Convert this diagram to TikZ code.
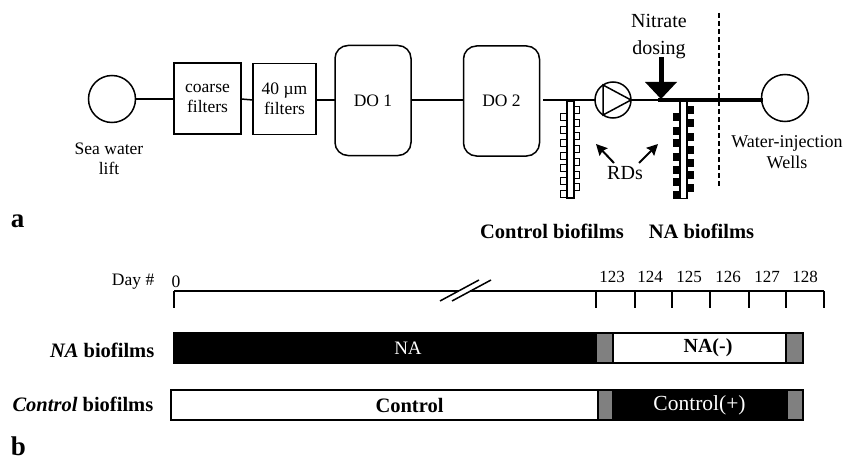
\documentclass[tikz,border=0pt]{standalone}
\usepackage{fontspec}
\setmainfont{Liberation Serif}
\usetikzlibrary{arrows.meta, positioning, calc}
\newcommand{\fs}[1]{\fontsize{#1}{#1}\selectfont}
\begin{document}
\begin{tikzpicture}[
  x=1pt, y=-1pt,
  line width=1.5pt,
  lbl/.style={inner sep=0pt, align=center, font=\fontsize{17.5}{20}\selectfont},
  head/.style={inner sep=0pt, font=\fontsize{20.5}{20}\selectfont\bfseries},
  panel/.style={inner sep=0pt, font=\fontsize{27}{27}\selectfont\bfseries},
  tank/.style={circle, draw, inner sep=0pt, outer sep=0pt, minimum size=47pt},
  filterbox/.style={rectangle, draw, inner sep=0pt, outer sep=0pt, align=center,
                    minimum height=71pt, font=\fontsize{17.5}{20}\selectfont},
  dobox/.style={rectangle, draw, rounded corners=13pt, inner sep=0pt, outer sep=0pt,
                minimum width=76pt, minimum height=110pt, font=\fontsize{17.5}{20}\selectfont},
  seg/.style={rectangle, draw, inner sep=0pt, outer sep=0pt, minimum height=30pt},
  shade/.style={seg, fill=black!50},
  tooth/.style={rectangle, draw, line width=1.3pt, inner sep=0pt, minimum width=6.5pt, minimum height=7.5pt},
  rod/.style={rectangle, draw, fill=white, line width=1.3pt, inner sep=0pt, minimum width=7pt, minimum height=97pt},
  arr/.style={-{Stealth[length=11pt, width=11pt, inset=1.5pt]}, line width=2pt}
]
  \useasboundingbox (0,0) rectangle (844,460);

  % panel a: water line
  \node[tank] (lift) at (112,99) {};
  \node[filterbox, minimum width=67pt] (coarse) at (207.5,98.5) {coarse\\filters};
  \node[filterbox, minimum width=63pt] (fine) at (284.5,99) {40 µm\\filters};
  \node[dobox] (do1) at (373,100.5) {DO 1};
  \node[dobox] (do2) at (501.5,101) {DO 2};
  \node[circle, draw, inner sep=0pt, outer sep=0pt, minimum size=36pt] (pump) at (613,100) {};
  \node[tank] (wells) at (785,98) {};
  \coordinate (pipein) at (543,100);
  \coordinate (dose) at (658,100);
  \coordinate (doseend) at (763,100);

  \draw (lift) -- (coarse.west |- lift);
  \draw (coarse.east |- 0,99) -- (fine.west |- 0,100);
  \draw (fine.east |- 0,100) -- (do1.west |- 0,100);
  \draw (do1.east |- 0,100) -- (do2.west |- 0,100);
  \draw (pipein) -- (pump.west);
  \draw (pump.east) -- (dose);
  \draw[line width=4pt] (dose) -- (doseend);
  \draw (603,85) -- (631,100) -- (603,115) -- cycle;

  % nitrate arrow
  \coordinate (nitrtop) at (661,57);
  \coordinate (nitrneck) at (661,82);
  \draw[line width=5pt] (nitrtop) -- (nitrneck);
  \fill (645,82) -- (677,82) -- (661,99) -- cycle;
  \node[lbl, font=\fontsize{20}{27}\selectfont] (nitrate) at (659,37) {Nitrate\\dosing};

  % rotating disks
  \foreach \y in {110,123,136,149,162,175,187} \node[tooth] at (576.5,\y) {};
  \foreach \y in {117,130,143,156,168,181,194} \node[tooth] at (563.5,\y) {};
  \node[rod] (rdctrl) at (570.5,149.5) {};
  \foreach \y in {110,123,137,150,163,175,188} \node[tooth, fill=black] at (690,\y) {};
  \foreach \y in {117,131,143,157,170,182,195} \node[tooth, fill=black] at (676.5,\y) {};
  \node[rod] (rdna) at (683.5,150) {};

  \node[lbl, font=\fontsize{20}{20}\selectfont] (rds) at (625,173) {RDs};
  \coordinate (rdctrltip) at (596,144);
  \coordinate (rdnatip) at (658,144);
  \draw[arr] (614,163) -- (rdctrltip);
  \draw[arr] (639,163) -- (rdnatip);

  \draw[dash pattern=on 5pt off 3pt, line width=1.2pt] (719,13) -- (719,187);

  \node[lbl] (liftlbl) at (109,158.5) {Sea water\\lift};
  \node[lbl, font=\fontsize{18}{21}\selectfont] (wellslbl) at (787,152.5) {Water-injection\\Wells};
  \node[head] (ctrlhead) at (552,231) {Control biofilms};
  \node[head] (nahead) at (701.5,231) {NA biofilms};
  \node[panel] (pa) at (17.5,221) {a};

  % panel b: time line
  \coordinate (t0) at (174,291);
  \coordinate (brk1) at (459,291);
  \coordinate (brk2) at (470,291);
  \coordinate (t5) at (824,291);
  \draw (t0) -- (brk1);
  \draw (brk2) -- (t5);
  \draw (440,301) -- (479,280);
  \draw (452,301) -- (491,280);
  \foreach \x in {174,596,635,672,710,749,786,824} \draw (\x,291) -- (\x,308);
  \foreach \x/\d in {612/123,650/124,689/125,728/126,767/127,805/128}
    \node[lbl, font=\fontsize{17}{20}\selectfont] at (\x,277) {\d};
  \node[lbl] (zero) at (176,282) {0};
  \node[lbl, left=21pt of zero.center, anchor=east] (day) {Day \#};

  % bars
  \node[seg, fill=black, minimum width=422pt, text=white] (nabar) at (385,348)
    {\hspace{46pt}\raisebox{-1pt}{\fs{19}NA}};
  \node[shade, minimum width=17pt, right=0pt of nabar] (nashade) {};
  \node[seg, fill=white, minimum width=173pt, right=0pt of nashade] (naminus)
    {\hspace{17pt}\raisebox{-2pt}{\fs{20}\bfseries NA(-)}};
  \node[shade, minimum width=17pt, right=0pt of naminus] (nashadeb) {};

  \node[seg, fill=white, minimum width=427pt] (ctrlbar) at (384.5,405)
    {\hspace{50pt}\fs{20.5}\bfseries Control};
  \node[shade, minimum width=15pt, right=0pt of ctrlbar] (ctrlshade) {};
  \node[seg, fill=black, minimum width=174pt, text=white, right=0pt of ctrlshade] (ctrlplus)
    {\hspace{-1pt}\raisebox{-1.5pt}{\fs{21.5}Control(+)}};
  \node[shade, minimum width=16pt, right=0pt of ctrlplus] (ctrlshadeb) {};

  \node[head, anchor=east] (nalbl) at (155,350) {\textit{NA} biofilms};
  \node[head, anchor=east] (ctrllbl) at (154,404) {\textit{Control} biofilms};
  \node[panel] (pb) at (18.5,446) {b};
\end{tikzpicture}
\end{document}
